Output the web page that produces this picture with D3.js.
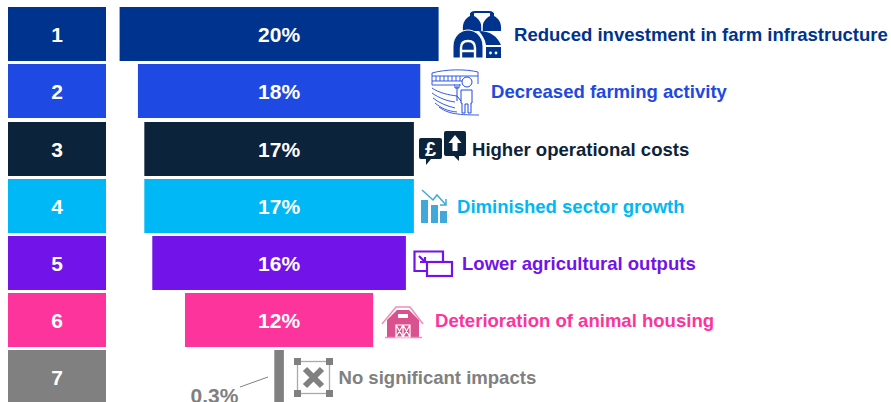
<!DOCTYPE html>
<html><head><meta charset="utf-8">
<script src="https://cdn.jsdelivr.net/npm/d3@7/dist/d3.min.js"></script>
<style>html,body{margin:0;padding:0;background:#fff;overflow:hidden}svg{display:block}text{font-family:"Liberation Sans",Arial,sans-serif;font-weight:700}</style>
</head><body><svg id="c" width="891" height="402"></svg>
<script>
const ranks = ["1","2","3","4","5","6","7"];
const values = [20, 17.7, 16.9, 16.9, 15.9, 11.8, 0.6];
const valueLabels = ["20%","18%","17%","17%","16%","12%","0.3%"];
const impacts = ["Reduced investment in farm infrastructure","Decreased farming activity","Higher operational costs","Diminished sector growth","Lower agricultural outputs","Deterioration of animal housing","No significant impacts"];
const colors = ["#00338D","#1E49E2","#0C233C","#00B8F5","#7213EA","#FD349C","#808080"];
const labelX = [514, 491, 472, 457, 462, 435, 338.5];

const svg = d3.select("#c");
const W = 319, CX = 279.1;
const y = d3.scaleBand().domain(ranks).range([7, 404]).paddingInner(3.17 / 57.17).paddingOuter(0);
const x = d3.scaleLinear().domain([0, 20]).range([0, W]);
const i = d => ranks.indexOf(d);
const rowTop = d => Math.round(y(d) + 0.2);

const rows = svg.selectAll("g.row").data(ranks).join("g").attr("class", "row");
rows.append("rect").attr("x", 8).attr("width", 98).attr("y", rowTop).attr("height", 54).attr("fill", d => colors[i(d)]);
rows.append("text").attr("x", 57).attr("y", d => rowTop(d) + 27.5).attr("dy", "0.36em").attr("text-anchor", "middle").attr("fill", "#fff").attr("font-size", 21).text(d => d);
rows.append("rect").attr("x", d => CX - x(values[i(d)]) / 2).attr("width", d => x(values[i(d)])).attr("y", rowTop).attr("height", 54).attr("fill", d => colors[i(d)]);
rows.filter(d => d !== "7").append("text").attr("x", CX).attr("y", d => rowTop(d) + 27.5).attr("dy", "0.36em").attr("text-anchor", "middle").attr("fill", "#fff").attr("font-size", 21).text(d => valueLabels[i(d)]);
rows.append("text").attr("x", d => labelX[i(d)]).attr("y", d => rowTop(d) + 27.5).attr("dy", "0.36em").attr("fill", d => colors[i(d)]).attr("font-size", 18.55).text(d => impacts[i(d)]);

// small value label with leader
svg.append("text").attr("x", 190.5).attr("y", 403).attr("fill", "#808080").attr("font-size", 21).text(valueLabels[6]);
svg.append("line").attr("x1", 240).attr("y1", 387).attr("x2", 268).attr("y2", 377).attr("stroke", "#808080").attr("stroke-width", 1);

// icons
const ic = (tx, ty) => svg.append("g").attr("transform", `translate(${tx},${ty})`);
// barn with silos
let g = ic(452, 10), c = "#00338D";
g.append("path").attr("fill", c).attr("d", "M11 21C10 12 14 8 18 6V3H22V6C26 8 30 12 30 21ZM30 21C30 12 34 8 38 6V3H42V6C46 8 50 12 49 21Z");
g.append("path").attr("fill", "none").attr("stroke", c).attr("stroke-width", 2.2).attr("d", "M19 5Q19 2 23 2H37Q41 2 41 5");
g.append("path").attr("fill", "none").attr("stroke", "#fff").attr("stroke-width", 1.5).attr("d", "M30 8V21");
g.append("path").attr("fill", c).attr("stroke", "#fff").attr("stroke-width", 1).attr("d", "M1 48V36C1 27 8 20 16 20C24 20 31 27 31 36V48Z");
g.append("path").attr("fill", "none").attr("stroke", "#fff").attr("stroke-width", 2.4).attr("d", "M9 49V38C9 33 12 31 16 31C20 31 23 33 23 38V49M9 41H23");
g.append("path").attr("fill", c).attr("d", "M27 21C38 21 45 26 49 35H34C33 29 30 25 27 21Z");
g.append("rect").attr("x", 34).attr("y", 37).attr("width", 15).attr("height", 11).attr("fill", c);
g.selectAll("circle").data([38.5, 44]).join("circle").attr("cx", d => d).attr("cy", 43).attr("r", 1.4).attr("fill", "#fff");

// farmer and field
g = ic(431, 69); c = "#1E49E2";
g.append("path").attr("fill", "none").attr("stroke", c).attr("stroke-width", .9).attr("d", "M1 4C15 0 35 0 47 3M1 7H47M1 12H34M1 16H30M1 4V16M5 7V12M9 7V12M13 7V12M17 7V12M21 7V12M25 7V12M29 7V12M47 3V15M1 19C8 24 18 26 26 27M1 24C8 29 16 32 24 33M2 29C8 34 16 37 24 39M4 34C10 39 16 42 26 43M8 38C16 44 24 46 48 46");
g.append("circle").attr("cx", 36).attr("cy", 13).attr("r", 5).attr("fill", "#fff").attr("stroke", c).attr("stroke-width", 1);
g.append("path").attr("fill", "#fff").attr("stroke", c).attr("stroke-width", 1).attr("d", "M30 21H41V34H40V44H37V35H34V44H31V34H30ZM26 15V32M24 15V19H28V15M26 27L30 32");

// pound & arrow bubbles
g = ic(419, 131); c = "#0C233C";
g.append("path").attr("fill", c).attr("d", "M2 7H21Q23 7 23 9V26Q23 28 21 28H12L7 34V28H2Q0 28 0 26V9Q0 7 2 7Z");
g.append("text").attr("x", 11.5).attr("y", 25).attr("text-anchor", "middle").attr("fill", "#fff").attr("font-size", 20).text("£");
g.append("path").attr("fill", c).attr("d", "M27 0H45Q47 0 47 2V23Q47 25 45 25H40V30L35 25H27Q25 25 25 23V2Q25 0 27 0Z");
g.append("path").attr("fill", "#fff").attr("d", "M36 4L42.5 12H38.5V20H33.5V12H29.5Z");

// decline bars
g = ic(420, 190); c = "#41A9DA";
g.append("rect").attr("x", 1).attr("y", 10).attr("width", 7).attr("height", 23).attr("fill", c);
g.append("rect").attr("x", 11).attr("y", 15).attr("width", 7).attr("height", 18).attr("fill", c);
g.append("rect").attr("x", 20).attr("y", 21).attr("width", 7).attr("height", 12).attr("fill", c);
g.append("path").attr("fill", "none").attr("stroke", c).attr("stroke-width", 1.5).attr("d", "M2 0L13 10L17 5L26 15M20 15H26V9");

// windows
g = ic(413, 250); c = "#7213EA";
g.append("path").attr("fill", "none").attr("stroke", c).attr("stroke-width", 2.2).attr("d", "M13 21H1.5V1.5H30V11");
g.append("rect").attr("x", 14).attr("y", 12).attr("width", 25).attr("height", 14).attr("fill", "none").attr("stroke", c).attr("stroke-width", 2.2);
g.append("path").attr("fill", "none").attr("stroke", c).attr("stroke-width", 2.2).attr("d", "M6 6L12 12M12 7V12H7");

// barn
g = ic(381, 304); c = "#D9518F";
g.append("path").attr("fill", c).attr("d", "M6 16L16 6H28L38 16V33H6Z");
g.append("path").attr("fill", "none").attr("stroke", "#F08DB8").attr("stroke-width", 1.5).attr("d", "M1 20L15 3H29L42 20M4 33.5H41");
g.append("rect").attr("x", 17).attr("y", 10).attr("width", 10).attr("height", 4).attr("fill", "#fff");
g.append("path").attr("fill", "none").attr("stroke", "#fff").attr("stroke-width", 1.2).attr("d", "M15 21H29V33H15ZM22 21V33M15 21L22 33M22 21L15 33M22 21L29 33M29 21L22 33");

// cross box
g = ic(294, 358); c = "#808080";
g.append("rect").attr("x", 3.5).attr("y", 3.5).attr("width", 32).attr("height", 32).attr("fill", "none").attr("stroke", "#aaa").attr("stroke-width", 1.3);
g.selectAll("rect.h").data([[0,0],[32,0],[0,32],[32,32]]).join("rect").attr("class", "h").attr("x", d => d[0]).attr("y", d => d[1]).attr("width", 7).attr("height", 7).attr("fill", c);
g.append("path").attr("stroke", c).attr("stroke-width", 6).attr("d", "M11 11L28 28M28 11L11 28");
</script></body></html>
